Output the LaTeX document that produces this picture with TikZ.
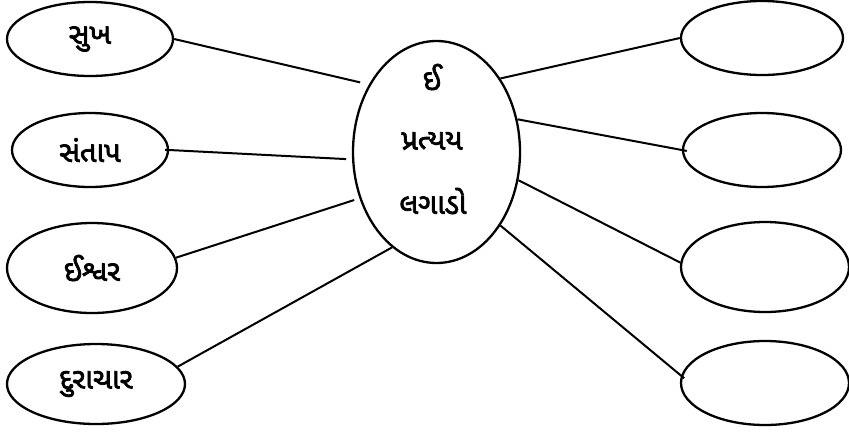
\documentclass[tikz,border=0pt]{standalone}
\usepackage{fontspec}
\usetikzlibrary{shapes.geometric}
\newfontfamily\guj[Script=Gujarati,AutoFakeBold=2.5]{Noto Sans Gujarati UI}
\begin{document}
\begin{tikzpicture}[x=1pt,y=-1pt,
  oval/.style={draw,ellipse,line width=2.3pt,inner sep=0pt},
  gtext/.style={font=\guj\bfseries\fontsize{29}{32}\selectfont},
  link/.style={line width=2pt}]
\useasboundingbox (0,0) rectangle (849,432);
% left ovals
\node[oval,gtext,minimum width=166,minimum height=74] (l1) at (90,39) {સુખ};
\node[oval,gtext,minimum width=156,minimum height=74] (l2) at (90,150) {સંતાપ};
\node[oval,gtext,minimum width=170,minimum height=90] (l3) at (92,268) {ઈશ્વર};
\node[oval,gtext,minimum width=178,minimum height=80] (l4) at (96,384) {દુરાચાર};
% centre
\node[oval,minimum width=167,minimum height=222] (c) at (436.5,152) {};
\node[gtext] (c1) at (432,77) {ઈ};
\node[gtext] (c2) at (432,141) {પ્રત્યય};
\node[gtext] (c3) at (433,201) {લગાડો};
% right ovals
\node[oval,minimum width=162,minimum height=74] (r1) at (762,38) {};
\node[oval,minimum width=158,minimum height=74] (r2) at (762,150) {};
\node[oval,minimum width=168,minimum height=90] (r3) at (765,267) {};
\node[oval,minimum width=168,minimum height=84] (r4) at (765,383) {};
% connectors
\draw[link,shorten >=9pt] (l1.east) -- (c.135);
\draw[link,shorten <=-4pt,shorten >=6pt] (l2.east) -- (c.185);
\draw[link,shorten >=5.5pt] (l3.7) -- (c.211);
\draw[link] (l4.12) -- (c.245);
\draw[link] (c.49) -- (r1.west);
\draw[link,shorten >=-5pt] (c.22) -- (r2.west);
\draw[link] (c.341) -- (r3.177);
\draw[link,shorten >=-4pt] (c.311) -- (r4.175);
\end{tikzpicture}
\end{document}
